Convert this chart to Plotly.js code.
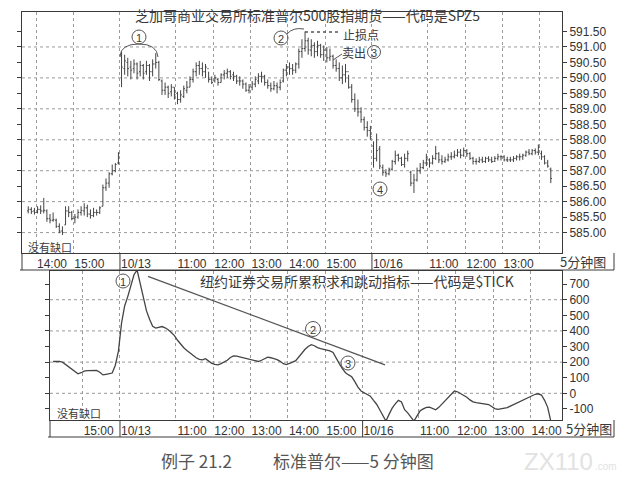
<!DOCTYPE html>
<html><head><meta charset="utf-8">
<script src="https://cdn.plot.ly/plotly-3.0.1.min.js"></script>
<style>html,body{margin:0;padding:0;background:#fff}#chart{width:638px;height:486px}</style>
</head><body><div id="chart"></div>
<script>
// ---------- S&P 500 futures (SPZ5), 5-minute bars ----------
const futSessionDates = ['10/12', '10/13', '10/16'];
const futFirstBar = ['13:45', '09:30', '09:30'];
const futBarCount = [30, 81, 58];

const spOpen = [
  585.70,585.75,585.70,585.65,585.75,585.70,585.70,585.45,585.40,585.40,585.20,585.05,585.25,585.70,585.65,585.45,585.50,585.65,585.70,585.80,585.60,585.55,585.65,585.65,585.85,586.45,586.60,586.90,587.00,587.25,
  590.70,590.30,590.50,590.35,590.30,590.45,590.20,590.40,590.20,590.40,590.20,590.45,
  590.50,589.90,589.60,589.70,589.55,589.70,589.50,589.30,589.40,589.60,589.70,589.95,
  590.20,590.40,590.30,590.20,590.30,589.95,589.90,589.95,589.85,590.10,590.15,590.20,
  590.10,590.05,589.90,589.90,589.80,589.60,589.70,589.80,589.90,590.05,590.05,589.85,
  589.75,589.65,589.75,589.70,589.90,590.25,590.35,590.30,590.25,590.45,590.85,590.95,
  591.20,590.90,591.05,590.85,591.05,590.75,590.90,590.65,590.70,590.40,590.30,590.00,
  590.10,590.20,589.70,589.30,589.00,588.90,588.65,588.40,588.30,
  587.80,587.40,587.70,587.10,586.95,586.90,587.05,587.30,587.50,587.40,587.20,587.40,
  586.95,586.60,586.70,587.00,587.10,587.25,587.35,587.25,587.40,587.55,587.35,587.30,
  587.35,587.45,587.45,587.50,587.60,587.50,587.65,587.55,587.40,587.30,587.30,587.35,
  587.30,587.40,587.35,587.30,587.40,587.45,587.45,587.35,587.35,587.35,587.40,587.45,
  587.45,587.50,587.60,587.55,587.65,587.60,587.55,587.45,587.25,587.05
];
const spHigh = [
  585.85,585.82,585.80,585.85,585.88,586.12,585.75,585.60,585.65,585.45,585.30,585.20,585.85,585.85,585.70,585.60,585.75,585.85,585.95,585.90,585.75,585.80,585.75,585.85,586.55,586.75,586.95,587.20,587.25,587.60,
  590.85,590.75,590.65,590.55,590.60,590.50,590.55,590.45,590.55,590.45,590.60,590.80,
  590.55,589.95,589.85,589.75,589.80,589.70,589.55,589.60,589.75,589.90,590.05,590.30,
  590.50,590.55,590.50,590.45,590.20,590.05,590.10,590.00,590.15,590.25,590.30,590.25,
  590.20,590.10,590.05,589.95,589.85,589.80,589.90,590.05,590.15,590.20,590.10,589.95,
  589.85,589.90,589.85,589.95,590.30,590.45,590.50,590.45,590.50,590.95,591.25,591.50,
  591.30,591.25,591.15,591.20,591.10,591.05,591.00,590.95,590.75,590.60,590.50,590.40,
  590.45,590.10,589.80,589.50,589.30,589.05,588.75,588.60,588.45,
  587.95,588.20,587.80,587.20,587.05,587.10,587.35,587.65,587.55,587.45,587.55,587.65,
  587.00,586.90,587.10,587.25,587.35,587.55,587.40,587.50,587.80,587.60,587.50,587.45,
  587.55,587.60,587.65,587.70,587.70,587.75,587.70,587.60,587.45,587.40,587.45,587.45,
  587.45,587.47,587.45,587.47,587.55,587.50,587.50,587.45,587.45,587.47,587.50,587.55,
  587.55,587.65,587.70,587.70,587.72,587.85,587.65,587.50,587.35,587.10
];
const spLow = [
  585.62,585.60,585.58,585.62,585.60,585.62,585.35,585.30,585.35,585.15,584.98,584.92,585.25,585.50,585.40,585.30,585.45,585.55,585.55,585.50,585.45,585.50,585.55,585.60,585.85,586.35,586.45,586.85,586.95,587.20,
  589.70,590.10,590.05,589.95,590.15,589.95,590.05,589.95,590.10,589.90,590.05,590.30,
  589.90,589.45,589.45,589.35,589.40,589.30,589.15,589.20,589.35,589.50,589.70,589.85,
  590.05,590.10,590.05,590.00,589.85,589.80,589.85,589.75,589.85,589.95,590.00,589.95,
  589.90,589.80,589.75,589.65,589.55,589.50,589.60,589.70,589.80,589.85,589.75,589.65,
  589.55,589.60,589.50,589.60,589.85,590.05,590.10,590.10,590.15,590.30,590.65,590.85,
  590.75,590.70,590.65,590.70,590.65,590.55,590.50,590.55,590.30,590.20,589.90,589.80,
  589.85,589.65,589.20,588.90,588.75,588.55,588.30,588.10,588.00,
  587.10,587.30,587.05,586.84,586.80,586.85,587.00,587.20,587.30,587.15,587.10,587.30,
  586.50,586.28,586.65,586.90,587.05,587.15,587.10,587.20,587.35,587.25,587.20,587.25,
  587.30,587.35,587.40,587.45,587.40,587.45,587.45,587.35,587.20,587.20,587.25,587.25,
  587.25,587.28,587.25,587.28,587.33,587.33,587.30,587.28,587.28,587.28,587.33,587.33,
  587.35,587.45,587.50,587.50,587.52,587.50,587.35,587.20,587.10,586.60
];
const spClose = [
  585.75,585.68,585.65,585.75,585.70,585.72,585.45,585.40,585.42,585.20,585.05,585.00,585.70,585.65,585.45,585.50,585.65,585.72,585.80,585.60,585.55,585.65,585.65,585.80,586.45,586.60,586.90,587.00,587.20,587.55,
  590.35,590.55,590.30,590.25,590.45,590.15,590.40,590.15,590.40,590.20,590.45,590.50,
  589.95,589.60,589.70,589.50,589.70,589.45,589.30,589.45,589.65,589.70,589.95,590.20,
  590.40,590.30,590.20,590.35,589.95,589.85,590.00,589.85,590.10,590.15,590.20,590.05,
  590.05,589.90,589.90,589.80,589.60,589.70,589.80,589.95,590.05,590.05,589.85,589.75,
  589.65,589.75,589.70,589.85,590.25,590.35,590.30,590.25,590.45,590.85,590.95,591.20,
  590.90,591.05,590.85,591.05,590.75,590.90,590.65,590.70,590.40,590.30,590.00,590.10,
  590.20,589.70,589.30,589.00,588.90,588.65,588.40,588.30,588.10,
  587.40,587.65,587.15,586.95,586.90,587.05,587.30,587.50,587.40,587.20,587.40,587.55,
  586.60,586.70,587.00,587.10,587.25,587.35,587.25,587.40,587.55,587.35,587.30,587.35,
  587.45,587.45,587.50,587.60,587.50,587.65,587.55,587.40,587.30,587.30,587.35,587.30,
  587.40,587.35,587.30,587.40,587.45,587.45,587.35,587.35,587.35,587.40,587.45,587.45,
  587.50,587.60,587.55,587.65,587.60,587.75,587.45,587.25,587.15,586.75
];

// ---------- NYSE cumulative $TICK, 5-minute ----------
const tickFirstBar = ['14:10', '09:30', '09:30'];
const tickBarCount = [22, 78, 61];
const tickValues = [
  204,206,205,200,185,170,150,135,125,132,142,146,146,147,147,135,118,122,125,130,180,270,
  450,560,620,690,760,790,700,620,530,475,430,418,
  425,428,420,408,390,370,340,315,292,275,260,240,
  228,218,215,222,205,192,186,183,190,200,212,230,
  240,238,233,230,225,219,212,207,204,212,224,232,
  228,222,216,205,190,184,190,200,209,235,260,282,
  300,312,305,293,287,283,278,272,262,222,190,158,
  132,118,106,75,40,15,
  5,-6,-18,-45,-70,-105,-145,-178,-135,-95,-68,-45,
  -55,-105,-125,-155,-178,-145,-112,-100,-90,-88,-98,-106,
  -90,-68,-48,-28,-5,15,10,0,-10,-25,-42,-55,
  -60,-62,-64,-66,-72,-85,-98,-103,-100,-97,-92,-82,
  -72,-63,-52,-42,-33,-24,-14,-6,-3,-11,-45,-90,
  -178
];

// ---------- axis labels ----------
const topTickSlots = [[0,'14:00'],[0,'15:00'],[1,'09:30'],[1,'11:00'],[1,'12:00'],[1,'13:00'],[1,'14:00'],[1,'15:00'],[2,'09:30'],[2,'11:00'],[2,'12:00'],[2,'13:00'],[2,'14:00']];
const topTickText = ['14:00','15:00','10/13','11:00','12:00','13:00','14:00','15:00','10/16','11:00','12:00','13:00',''];
const bottomTickSlots = [[0,'15:00'],[1,'09:30'],[1,'11:00'],[1,'12:00'],[1,'13:00'],[1,'14:00'],[1,'15:00'],[2,'09:30'],[2,'11:00'],[2,'12:00'],[2,'13:00'],[2,'14:00']];
const bottomTickText = ['15:00','10/13','11:00','12:00','13:00','14:00','15:00','10/16','11:00','12:00','13:00','14:00'];
const spPriceTicks = [585,585.5,586,586.5,587,587.5,588,588.5,589,589.5,590,590.5,591,591.5];
const spGridLevels = [585,586,587,588,589,590,591];
const tickAxisTicks = [-100,0,100,200,300,400,500,600,700];
const tickGridLevels = [0,200,400,600];

const topTitle = '芝加哥商业交易所标准普尔500股指期货——代码是SPZ5';
const bottomTitle = '纽约证券交易所累积求和跳动指标——代码是$TICK';

// ---------- helpers ----------
const W = 638, H = 486;
const PX = x => x / W, PY = y => 1 - y / H;
const mins = t => { const p = t.split(':').map(Number); return p[0] * 60 + p[1]; };
function barX(counts) { const xs = []; let s = 0; counts.forEach(n => { for (let i = 0; i < n; i++) xs.push(s + i); s += n; }); return xs; }
function slotX(counts, first, sess, time) { let s = 0; for (let k = 0; k < sess; k++) s += counts[k]; return s + (mins(time) - mins(first[sess])) / 5 - 0.5; }

const spX = barX(futBarCount);
const tkX = barX(tickBarCount);
const topTickVals = topTickSlots.map(([s, t]) => slotX(futBarCount, futFirstBar, s, t));
const botTickVals = bottomTickSlots.map(([s, t]) => slotX(tickBarCount, tickFirstBar, s, t));

const CJK = 'Noto Sans CJK SC, sans-serif';
const NUM = 'Liberation Sans, Arial, sans-serif';
const INK = '#3a3a3a';

const traces = [
  { type: 'ohlc', x: spX, open: spOpen, high: spHigh, low: spLow, close: spClose,
    xaxis: 'x', yaxis: 'y', tickwidth: 0.4, hoverinfo: 'skip',
    increasing: { line: { color: '#444', width: 1 } }, decreasing: { line: { color: '#444', width: 1 } } },
  { type: 'scatter', mode: 'lines', x: tkX, y: tickValues, xaxis: 'x2', yaxis: 'y2',
    line: { color: '#444', width: 1.3 }, hoverinfo: 'skip' }
];

const shapes = [];
const dotted = { color: '#9a9a9a', width: 1, dash: 'dot' };
spGridLevels.forEach(v => shapes.push({ type: 'line', xref: 'x domain', yref: 'y', x0: 0, x1: 1, y0: v, y1: v, line: dotted, layer: 'below' }));
tickGridLevels.forEach(v => shapes.push({ type: 'line', xref: 'x2 domain', yref: 'y2', x0: 0, x1: 1, y0: v, y1: v, line: dotted, layer: 'below' }));
// session separators through label rows
[1, 2].forEach(s => {
  const xa = slotX(futBarCount, futFirstBar, s, '09:30');
  shapes.push({ type: 'line', xref: 'x', yref: 'paper', x0: xa, x1: xa, y0: PY(253), y1: PY(270), line: { color: INK, width: 1 } });
  const xb = slotX(tickBarCount, tickFirstBar, s, '09:30');
  shapes.push({ type: 'line', xref: 'x2', yref: 'paper', x0: xb, x1: xb, y0: PY(420), y1: PY(437), line: { color: INK, width: 1 } });
});
const frame = (x0, y0, x1, y1) => shapes.push({ type: 'line', xref: 'paper', yref: 'paper', x0: PX(x0), y0: PY(y0), x1: PX(x1), y1: PY(y1), line: { color: INK, width: 1 } });
frame(22, 253, 22, 270); frame(20, 270, 614, 270); frame(614, 253, 614, 270);
frame(50, 420, 50, 437); frame(48, 437, 614, 437); frame(614, 420, 614, 437);
// circles
const circ = (cx, cy, r) => shapes.push({ type: 'circle', xref: 'paper', yref: 'paper', x0: PX(cx - r), x1: PX(cx + r), y0: PY(cy + r), y1: PY(cy - r), line: { color: '#555', width: 1 } });
const circles = [[139, 37, 7, '1'], [281, 38, 7, '2'], [374, 52, 6.5, '3'], [380, 189, 7, '4'], [123, 281, 7, '1'], [313, 329, 7.5, '2'], [348, 363, 7, '3']];
circles.forEach(c => circ(c[0], c[1], c[2]));
const P = (x, y) => PX(x).toFixed(5) + ',' + PY(y).toFixed(5);
shapes.push({ type: 'path', xref: 'paper', yref: 'paper', path: 'M' + P(120, 56) + ' Q' + P(121, 44) + ' ' + P(139, 44) + ' Q' + P(157, 44) + ' ' + P(158, 57), line: { color: '#555', width: 1 } });
shapes.push({ type: 'path', xref: 'paper', yref: 'paper', path: 'M' + P(287, 34) + ' Q' + P(293, 27) + ' ' + P(304, 29), line: { color: '#555', width: 1 } });
shapes.push({ type: 'line', xref: 'paper', yref: 'paper', x0: PX(305), x1: PX(340), y0: PY(32), y1: PY(32), line: { color: '#555', width: 1.5, dash: 'dot' } });
shapes.push({ type: 'line', xref: 'paper', yref: 'paper', x0: PX(333), x1: PX(342), y0: PY(60), y1: PY(54), line: { color: '#555', width: 1 } });
// $TICK trend line
shapes.push({ type: 'line', xref: 'x2', yref: 'y2', x0: 30.5, y0: 750, x1: 106.7, y1: 183, line: { color: '#555', width: 1.3 } });

const ann = (x, y, text, size, opts = {}) => Object.assign({ xref: 'paper', yref: 'paper', x: PX(x), y: PY(y), text, showarrow: false,
  font: { family: CJK, size, color: INK }, xanchor: 'center', yanchor: 'middle', borderpad: 0 }, opts);
const annotations = [
  ann(307, 15, topTitle, 14),
  ann(357, 281, bottomTitle, 14),
  ann(361, 35, '止损点', 12),
  ann(354, 52.5, '卖出', 12),
  ann(27, 247, '没有缺口', 11, { xanchor: 'left' }),
  ann(56, 413, '没有缺口', 11, { xanchor: 'left' }),
  ann(583, 261, '5分钟图', 13),
  ann(589, 428, '5分钟图', 13),
  ann(160, 460, '例子 21.2', 17, { xanchor: 'left', font: { family: CJK, size: 17, color: '#555' } }),
  ann(272, 460, '标准普尔——5 分钟图', 17, { xanchor: 'left', font: { family: CJK, size: 17, color: '#555' } }),
  ann(523, 461, 'ZX110', 24, { xanchor: 'left', font: { family: NUM, size: 24, color: '#e2e2e2' } }),
  ann(594, 466, '.com', 10, { xanchor: 'left', font: { family: NUM, size: 10, color: '#e2e2e2' } })
];
circles.forEach(c => annotations.push(ann(c[0], c[1] + 0.5, c[3], 11, { font: { family: NUM, size: 11, color: INK } })));

const xCommon = { showgrid: true, gridcolor: '#9a9a9a', griddash: 'dot', gridwidth: 1, ticks: '', showline: true, mirror: true,
  linecolor: INK, linewidth: 1, zeroline: false, ticklabelshift: 16, tickangle: 0,
  tickfont: { family: NUM, size: 12, color: '#333' }, fixedrange: true };
const yCommon = { side: 'right', ticks: 'outside', ticklen: 4, tickcolor: INK, showgrid: false, showline: true, mirror: 'ticks',
  linecolor: INK, linewidth: 1, zeroline: false, tickfont: { family: NUM, size: 12, color: '#333' }, fixedrange: true };

const layout = {
  width: W, height: H, margin: { l: 0, r: 0, t: 0, b: 0 }, paper_bgcolor: '#fff', plot_bgcolor: '#fff', showlegend: false, hovermode: false,
  xaxis: Object.assign({}, xCommon, { domain: [PX(22), PX(562)], range: [-2.0, 171.6], anchor: 'y', tickmode: 'array', tickvals: topTickVals, ticktext: topTickText, rangeslider: { visible: false } }),
  yaxis: Object.assign({}, yCommon, { domain: [PY(253), PY(12)], range: [584.34, 592.13], anchor: 'x', tickmode: 'array', tickvals: spPriceTicks, ticktext: spPriceTicks.map(v => v.toFixed(2)) }),
  xaxis2: Object.assign({}, xCommon, { domain: [PX(50), PX(562)], range: [-1.0, 163.6], anchor: 'y2', tickmode: 'array', tickvals: botTickVals, ticktext: bottomTickText }),
  yaxis2: Object.assign({}, yCommon, { domain: [PY(420), PY(271)], range: [-171, 784], anchor: 'x2', tickmode: 'array', tickvals: tickAxisTicks, ticktext: tickAxisTicks.map(String) }),
  shapes, annotations
};
Plotly.newPlot('chart', traces, layout, { staticPlot: true, displayModeBar: false });
</script></body></html>
